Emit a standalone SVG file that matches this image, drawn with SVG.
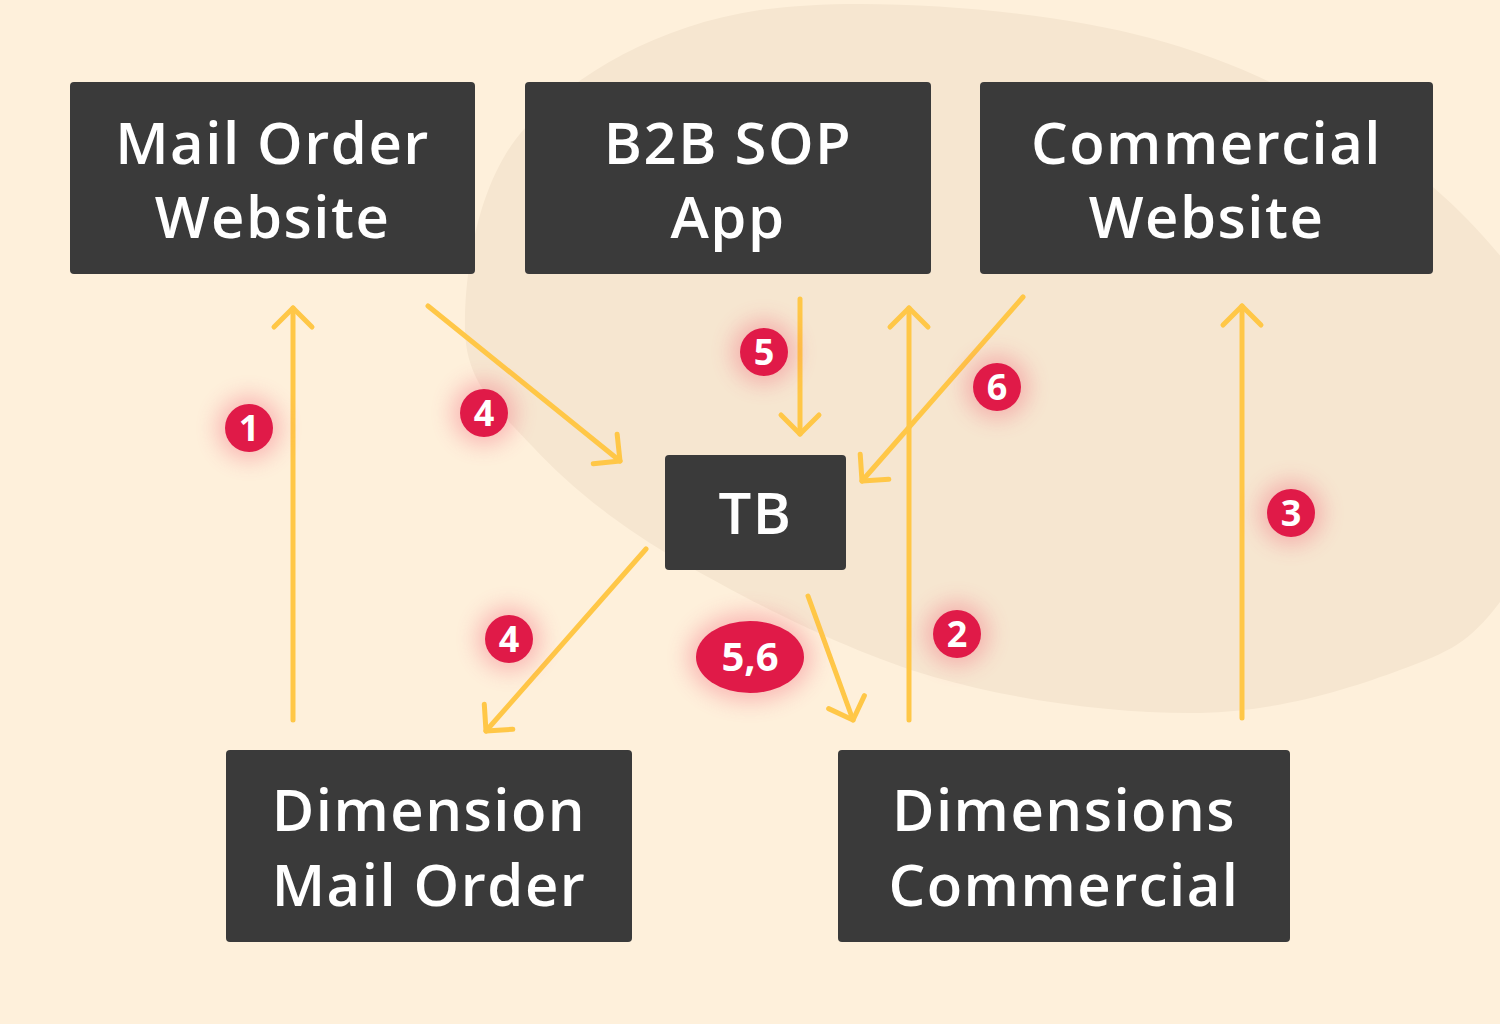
<svg xmlns="http://www.w3.org/2000/svg" width="1500" height="1024" viewBox="0 0 1500 1024">
<defs>
<style>
.box{fill:#3a3a3a}
.lbl{font-family:"Open Sans","Liberation Sans",sans-serif;font-weight:600;font-size:58px;letter-spacing:1.5px;fill:#ffffff;text-anchor:middle}
.conn{fill:none;stroke:#FFC747;stroke-width:5;stroke-linecap:round;stroke-linejoin:round}
.badge{fill:#E01A48}
.glow{fill:#F03A5E;opacity:0.3;filter:url(#blur)}
.num{font-family:"Open Sans","Liberation Sans",sans-serif;font-weight:700;font-size:36px;fill:#ffffff;text-anchor:middle}
</style>
<filter id="blur" x="-1" y="-1" width="3" height="3"><feGaussianBlur stdDeviation="11"/></filter>
<marker id="head" markerUnits="userSpaceOnUse" markerWidth="60" markerHeight="60" viewBox="-30 -30 60 60" refX="0" refY="0" orient="auto" overflow="visible">
<path d="M -19 -19 L 0 0 L -19 19" fill="none" stroke="#FFC747" stroke-width="5" stroke-linecap="round" stroke-linejoin="round"/>
</marker>
</defs>
<rect x="0" y="0" width="1500" height="1024" fill="#FEF0DB"/>
<path d="M 465 330 C 463.8 276.7 476.5 179.8 526 127 C 575.5 74.2 658 25 760 10 C 862 -4.5 1038.2 8 1150 38 C 1261.8 68 1359.7 123.7 1433 187 C 1506.3 250.3 1578.8 350.8 1590 420 C 1601.2 489.2 1531.7 560.3 1500 602 C 1468.3 643.7 1450 651.5 1400 670 C 1350 688.5 1277.7 711.8 1200 713 C 1122.3 714.2 1020.2 702 934 677 C 847.8 652 749.8 601.3 683 563 C 616.2 524.7 569.3 485.8 533 447 C 496.7 408.2 466.2 383.3 465 330 Z" fill="#F6E6D0"/>

<g id="connectors">
<line class="conn" x1="293" y1="720" x2="293" y2="308" marker-end="url(#head)"/>
<line class="conn" x1="428" y1="306" x2="620" y2="461" marker-end="url(#head)"/>
<line class="conn" x1="800" y1="299" x2="800" y2="434" marker-end="url(#head)"/>
<line class="conn" x1="909" y1="720" x2="909" y2="308" marker-end="url(#head)"/>
<line class="conn" x1="1023" y1="297" x2="862" y2="481" marker-end="url(#head)"/>
<line class="conn" x1="1242" y1="718" x2="1242" y2="306" marker-end="url(#head)"/>
<line class="conn" x1="646" y1="549" x2="486" y2="731" marker-end="url(#head)"/>
<line class="conn" x1="808" y1="596" x2="853" y2="720" marker-end="url(#head)"/>
</g>

<g id="mail-order-website">
<rect class="box" x="70" y="82" width="405" height="192" rx="4"/>
<text class="lbl" x="272.5" y="164">Mail Order</text>
<text class="lbl" x="272.5" y="238">Website</text>
</g>
<g id="b2b-sop-app">
<rect class="box" x="525" y="82" width="406" height="192" rx="4"/>
<text class="lbl" x="728" y="164">B2B SOP</text>
<text class="lbl" x="728" y="238">App</text>
</g>
<g id="commercial-website">
<rect class="box" x="980" y="82" width="453" height="192" rx="4"/>
<text class="lbl" x="1206.5" y="164">Commercial</text>
<text class="lbl" x="1206.5" y="238">Website</text>
</g>
<g id="tb">
<rect class="box" x="665" y="455" width="181" height="115" rx="4"/>
<text class="lbl" x="755.5" y="534">TB</text>
</g>
<g id="dimension-mail-order">
<rect class="box" x="226" y="750" width="406" height="192" rx="4"/>
<text class="lbl" x="429" y="831">Dimension</text>
<text class="lbl" x="429" y="906">Mail Order</text>
</g>
<g id="dimensions-commercial">
<rect class="box" x="838" y="750" width="452" height="192" rx="4"/>
<text class="lbl" x="1064" y="831">Dimensions</text>
<text class="lbl" x="1064" y="906">Commercial</text>
</g>

<g id="badge-1"><circle class="glow" cx="249" cy="428" r="32"/><circle class="badge" cx="249" cy="428" r="24"/><text class="num" x="249" y="441">1</text></g>
<g id="badge-4a"><circle class="glow" cx="484" cy="413" r="32"/><circle class="badge" cx="484" cy="413" r="24"/><text class="num" x="484" y="426">4</text></g>
<g id="badge-5"><circle class="glow" cx="764" cy="352" r="32"/><circle class="badge" cx="764" cy="352" r="24"/><text class="num" x="764" y="365">5</text></g>
<g id="badge-6"><circle class="glow" cx="997" cy="387" r="32"/><circle class="badge" cx="997" cy="387" r="24"/><text class="num" x="997" y="400">6</text></g>
<g id="badge-3"><circle class="glow" cx="1291" cy="513" r="32"/><circle class="badge" cx="1291" cy="513" r="24"/><text class="num" x="1291" y="526">3</text></g>
<g id="badge-2"><circle class="glow" cx="957" cy="634" r="32"/><circle class="badge" cx="957" cy="634" r="24"/><text class="num" x="957" y="647">2</text></g>
<g id="badge-4b"><circle class="glow" cx="509" cy="639" r="32"/><circle class="badge" cx="509" cy="639" r="24"/><text class="num" x="509" y="652">4</text></g>
<g id="badge-56"><ellipse class="glow" cx="750" cy="657" rx="62" ry="44"/><ellipse class="badge" cx="750" cy="657" rx="54" ry="36"/><text class="num" x="750" y="671" style="font-size:40px">5,6</text></g>
</svg>
